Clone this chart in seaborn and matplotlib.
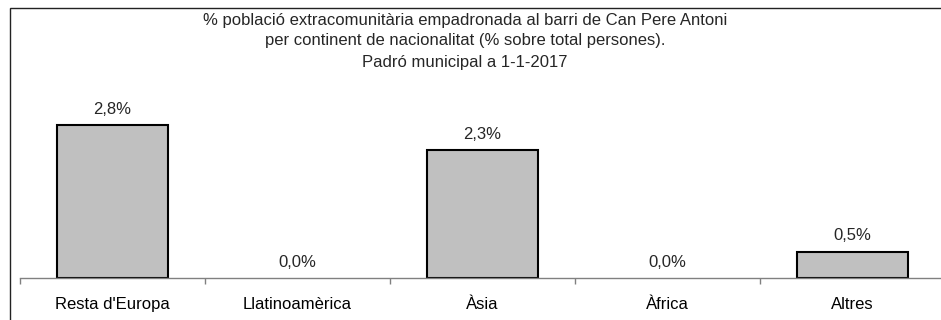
import matplotlib
matplotlib.use("Agg")
import matplotlib.pyplot as plt
import seaborn as sns
import pandas as pd
from matplotlib.patches import Rectangle
from matplotlib.ticker import FixedLocator

categories = ["Resta d'Europa", "Llatinoamèrica", "Àsia", "Àfrica", "Altres"]
values = [2.8, 0.0, 2.34, 0.0, 0.48]
title_lines = [
    "% població extracomunitària empadronada al barri de Can Pere Antoni",
    "per continent de nacionalitat (% sobre total persones).",
    "Padró municipal a 1-1-2017",
]

sns.set_style("white")
plt.rcParams["font.family"] = ["Liberation Sans", "DejaVu Sans"]

W, H = 941, 320
fig = plt.figure(figsize=(W / 100, H / 100), dpi=100)
ax = fig.add_axes([20 / W, 42 / H, 925 / W, 183 / H])

df = pd.DataFrame({"cat": categories, "val": values})
sns.barplot(data=df, x="cat", y="val", order=categories, color="#C0C0C0",
            edgecolor="black", linewidth=1.5, width=0.595, saturation=1, ax=ax)
for p in ax.patches:
    if p.get_height() == 0:
        p.set_visible(False)

ax.set_xlim(-0.5, 4.5)
ax.set_ylim(0, 3.35)
for s in ["top", "right", "left"]:
    ax.spines[s].set_visible(False)
ax.spines["bottom"].set_color("#808080")
ax.spines["bottom"].set_linewidth(1.0)
ax.set_yticks([])
ax.set_xlabel("")
ax.set_ylabel("")
ax.xaxis.set_minor_locator(FixedLocator([i - 0.5 for i in range(len(categories) + 1)]))
ax.tick_params(axis="x", which="minor", direction="out", length=4, width=1, color="#808080", bottom=True)
ax.tick_params(axis="x", which="major", length=0, pad=14, labelsize=12, labelcolor="black")

for i, v in enumerate(values):
    ax.annotate(f"{v:.1f}%".replace(".", ","), (i, v), xytext=(0, 6),
                textcoords="offset points", ha="center", va="bottom", fontsize=12)

for k, line in enumerate(title_lines):
    fig.text(465 / W, 1 - (20 + 21 * k) / H, line, ha="center", va="center", fontsize=12)

fig.patches.append(Rectangle((10 / W, -0.1), 1.0, 1 - 8 / H + 0.1, transform=fig.transFigure,
                             fill=False, edgecolor="#222222", linewidth=1.0))

fig.savefig("out.png", dpi=100)
